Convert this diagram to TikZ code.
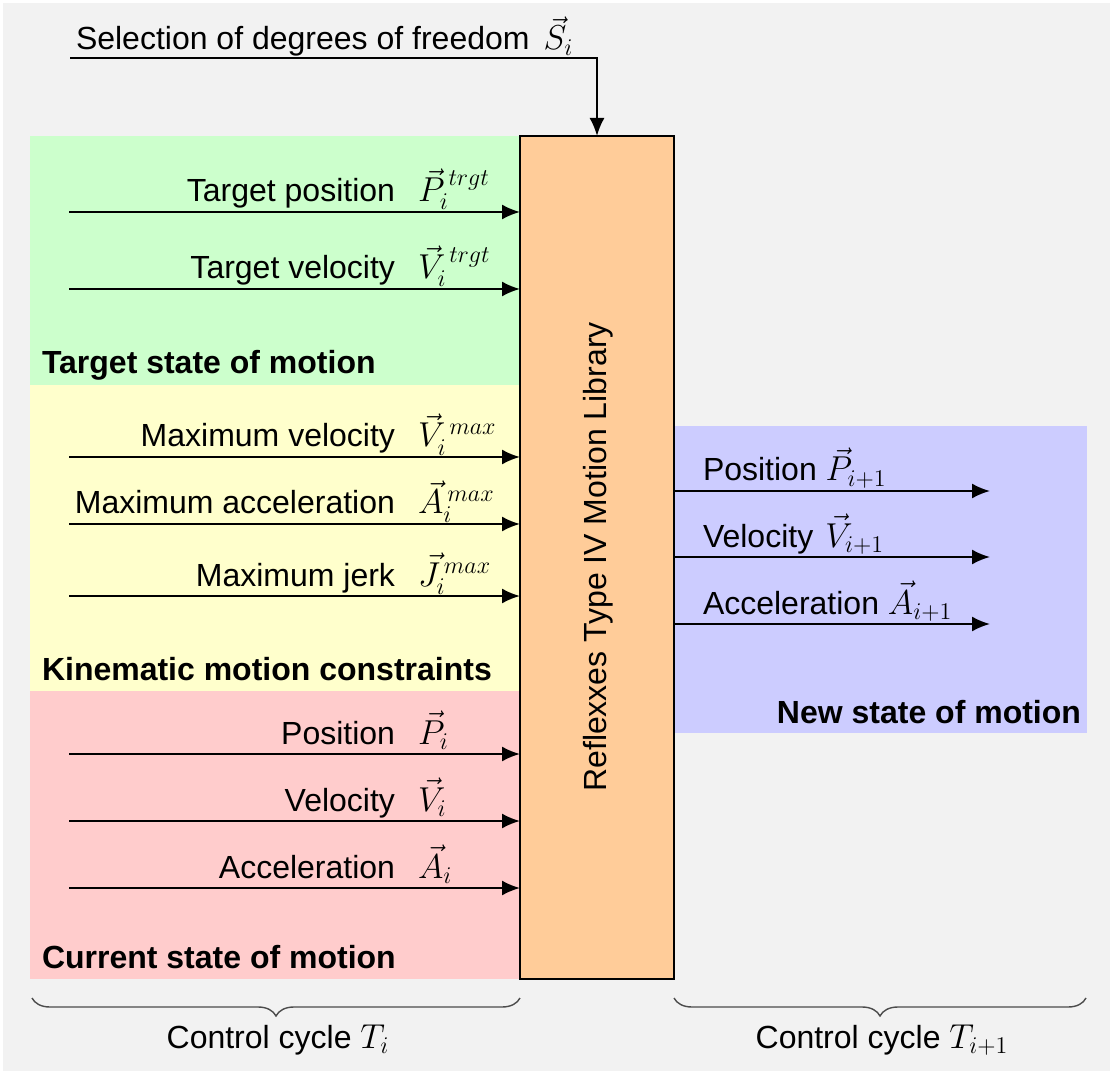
\documentclass[tikz,border=0pt]{standalone}
\usepackage[no-math]{fontspec}
\setmainfont{Liberation Sans}
\usetikzlibrary{arrows.meta,decorations.pathreplacing}
\DeclareMathSizes{16}{16}{13}{10}
\definecolor{bgc}{HTML}{F2F2F2}
\definecolor{greenc}{HTML}{CCFFCC}
\definecolor{yellowc}{HTML}{FFFFCC}
\definecolor{redc}{HTML}{FFCCCC}
\definecolor{bluec}{HTML}{CCCCFF}
\definecolor{orangec}{HTML}{FFCC99}
\begin{document}
\begin{tikzpicture}[x=0.5pt,y=-0.5pt,
  every node/.style={font=\fontsize{16}{19}\selectfont, inner sep=0pt, outer sep=0pt},
  arr/.style={-{Latex[length=9pt,width=7.5pt]}, line width=1pt},
  lbl/.style={anchor=base east},
  sym/.style={anchor=base west},
  outlbl/.style={anchor=base west},
  head/.style={font=\fontsize{16}{19}\selectfont\bfseries},
  brc/.style={decorate, decoration={brace,mirror,amplitude=9pt}, line width=0.7pt, draw=black!70}]
\useasboundingbox (0,0) rectangle (1113,1074);
% background and regions
\fill[white] (0,0) rectangle (1113,1074);
\fill[bgc] (3,3) rectangle (1110,1071);
\fill[greenc] (30,136) rectangle (520,385);
\fill[yellowc] (30,385) rectangle (520,691);
\fill[redc] (30,691) rectangle (520,979);
\fill[bluec] (674,426) rectangle (1087,733);
% central block
\node[draw, line width=1.2pt, fill=orangec, minimum width=77pt, minimum height=421.5pt] (box) at (597,557.5) {};
\node[rotate=90] (boxtxt) at (598,557) {Reflexxes Type IV Motion Library};
% top input
\node[anchor=base west] (seltxt) at (76,50) {Selection of degrees of freedom\hspace{7pt}$\vec{S}_i$};
\coordinate (s0) at (70,58);
\draw[arr] (s0) -| (box.north);
% inputs
\foreach \name/\y/\txt/\sy in {
  i1/212/Target position/{\vec{P}_i^{\,trgt}},
  i2/289/Target velocity/{\vec{V}_i^{\,trgt}},
  i3/457/Maximum velocity/{\vec{V}_i^{\,max}},
  i4/524/Maximum acceleration/{\vec{A}_i^{\,max}},
  i5/596/Maximum jerk/{\vec{J}_i^{\,max}},
  i6/754/Position/{\vec{P}_i},
  i7/821/Velocity/{\vec{V}_i},
  i8/888/Acceleration/{\vec{A}_i}}{
  \coordinate (\name) at (69,\y);
  \node[lbl] (\name t) at (395,\y-10) {\txt};
  \node[sym] (\name s) at (418,\y-10) {$\sy$};
  \draw[arr] (\name) -- (\name -| box.west);
}
% outputs
\foreach \name/\y/\txt in {
  o1/491/{Position $\vec{P}_{i+1}$},
  o2/557/{Velocity\hspace{6pt}$\vec{V}_{i+1}$},
  o3/624/{Acceleration $\vec{A}_{i+1}$}}{
  \coordinate (\name) at (990,\y);
  \node[outlbl] (\name t) at (703,\y-10) {\txt};
  \draw[arr] (\name -| box.east) -- (\name);
}
% section headings
\node[head, anchor=base west] (h1) at (42,374) {Target state of motion};
\node[head, anchor=base west] (h2) at (42,680) {Kinematic motion constraints};
\node[head, anchor=base west] (h3) at (42,968) {Current state of motion};
\node[head, anchor=base east] (h4) at (1081,723) {New state of motion};
% braces
\coordinate (b1a) at (32,998);
\coordinate (b1b) at (520,998);
\coordinate (b2a) at (674,998);
\coordinate (b2b) at (1086,998);
\draw[brc] (b1a) -- (b1b);
\draw[brc] (b2a) -- (b2b);
\node[anchor=base] (c1) at (278,1048) {Control cycle $T_i$};
\node[anchor=base] (c2) at (882,1048) {Control cycle $T_{i+1}$};
\end{tikzpicture}
\end{document}
